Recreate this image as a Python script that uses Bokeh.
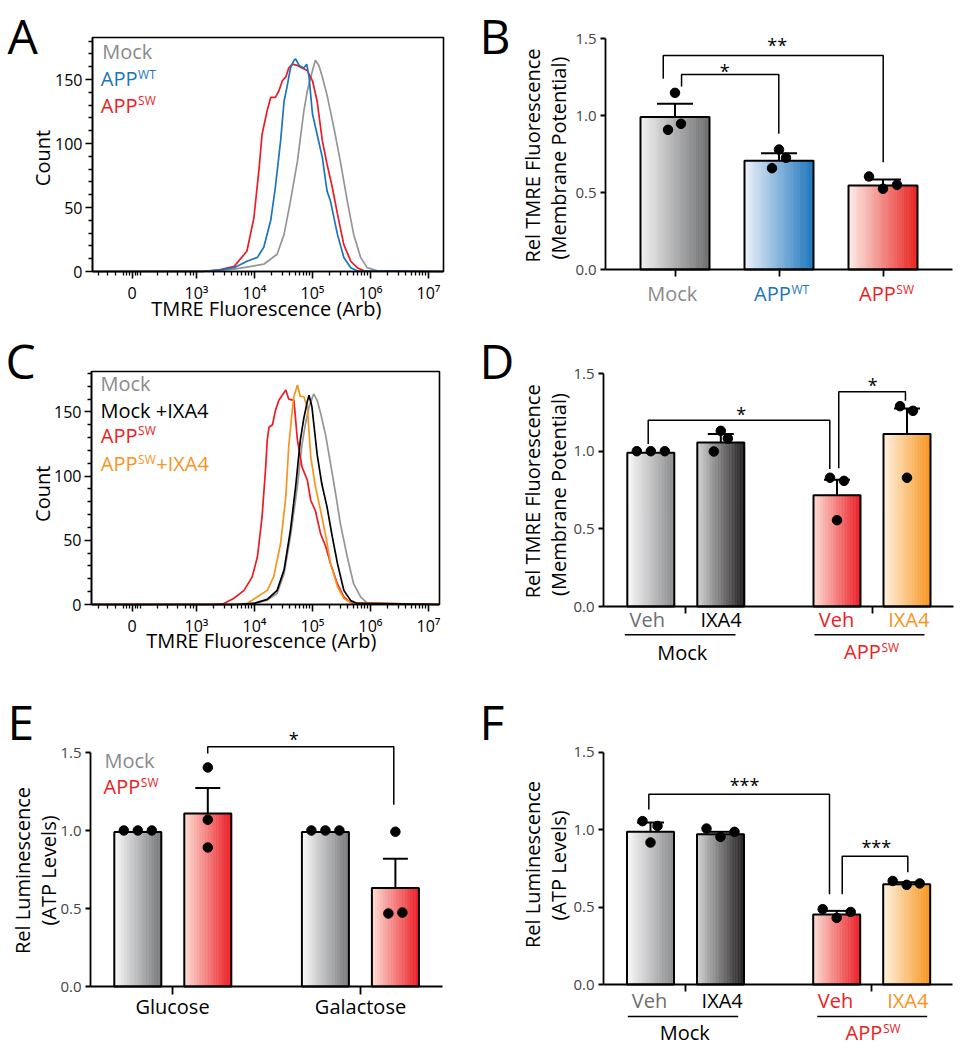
import math
from bokeh.plotting import figure
from bokeh.models import Label, FixedTicker, Range1d, Arrow, NumeralTickFormatter, BoxAnnotation
from bokeh.layouts import column, row
from bokeh.embed import file_html
from bokeh.resources import INLINE

FONT = "Open Sans"
GRAY_TXT = "#8a8a8c"
DGRAY_TXT = "#6d6e71"
BLUE = "#1c75bc"
RED = "#ed1c24"
ORANGE = "#f7941d"

# ---------------- Panel A: flow histograms (x = log10 TMRE fluorescence, y = count)
A_MOCK_X = [1.21, 3.30, 3.65, 4.16, 4.39, 4.51, 4.62, 4.74, 4.85, 4.91, 5.00, 5.05, 5.11, 5.17, 5.25, 5.37, 5.48, 5.60, 5.71, 5.83, 5.94, 6.12, 7.25]
A_MOCK_Y = [0, 0.5, 1.8, 5.7, 13.5, 29, 55, 86, 125, 141, 157, 165, 161, 152, 138, 112, 86, 55, 29, 11, 3, 0.5, 0]
A_WT_X = [1.21, 3.10, 3.36, 3.65, 3.87, 4.05, 4.16, 4.28, 4.36, 4.45, 4.51, 4.56, 4.62, 4.68, 4.71, 4.77, 4.85, 4.90, 4.94, 5.00, 5.08, 5.17, 5.25, 5.31, 5.43, 5.54, 5.66, 5.77, 7.25]
A_WT_Y = [0, 0, 1, 3, 8, 11, 19, 40, 66, 102, 133, 144, 159, 165, 166, 161, 159, 162, 152, 123, 107, 89, 63, 55, 29, 11, 3, 0.5, 0]
A_SW_X = [1.21, 3.10, 3.36, 3.65, 3.87, 3.99, 4.08, 4.13, 4.22, 4.28, 4.36, 4.42, 4.48, 4.54, 4.59, 4.65, 4.74, 4.82, 4.91, 5.00, 5.08, 5.17, 5.25, 5.34, 5.43, 5.54, 5.66, 5.77, 5.89, 7.25]
A_SW_Y = [0, 0, 1, 4, 16, 42, 81, 107, 126, 136, 136, 141, 149, 152, 159, 162, 161, 159, 157, 149, 133, 102, 84, 66, 45, 21, 8, 3, 0.5, 0]

# ---------------- Panel C: flow histograms
C_MOCK_X = [1.2, 3.70, 3.99, 4.22, 4.39, 4.51, 4.62, 4.74, 4.82, 4.88, 4.94, 5.02, 5.08, 5.14, 5.23, 5.31, 5.40, 5.48, 5.60, 5.71, 5.83, 5.94, 7.18]
C_MOCK_Y = [0, 0, 0.8, 3.4, 8.6, 24, 53, 92, 125, 141, 154, 164, 159, 149, 131, 110, 86, 63, 37, 16, 6, 1.3, 0]
C_MIX_X = [1.2, 3.70, 3.99, 4.22, 4.39, 4.51, 4.62, 4.71, 4.79, 4.85, 4.91, 4.94, 4.99, 5.08, 5.16, 5.25, 5.34, 5.43, 5.54, 5.66, 5.77, 7.18]
C_MIX_Y = [0, 0, 0.8, 4, 11, 27, 58, 92, 128, 145, 158, 163, 154, 117, 94, 76, 53, 32, 11, 3, 0.8, 0]
C_SW_X = [1.2, 3.30, 3.47, 3.64, 3.82, 3.96, 4.05, 4.13, 4.19, 4.22, 4.25, 4.31, 4.36, 4.42, 4.54, 4.59, 4.68, 4.74, 4.82, 4.91, 4.97, 5.05, 5.14, 5.23, 5.31, 5.43, 5.54, 5.66, 7.18]
C_SW_Y = [0, 0, 0.8, 4.7, 11, 21.5, 37, 68, 105, 128, 138, 140, 151, 159, 167, 160, 159, 128, 107, 97, 81, 73, 55, 45, 32, 16, 6, 1.3, 0]
C_SWIX_X = [1.2, 3.60, 3.87, 4.05, 4.22, 4.33, 4.45, 4.54, 4.59, 4.65, 4.68, 4.74, 4.79, 4.85, 4.91, 4.97, 5.05, 5.14, 5.23, 5.31, 5.43, 5.54, 5.66, 7.18]
C_SWIX_Y = [0, 0, 0.8, 6, 11, 21.5, 47.5, 84, 123, 151, 162, 171, 162, 162, 154, 115, 92, 73, 53, 32, 14, 4.7, 1.3, 0]

HIST_TICKS = [1.89, 3, 4, 5, 6, 7]
HIST_TICK_LABELS = ["0", "10\u00b3", "10\u2074", "10\u2075", "10\u2076", "10\u2077"]

# ---------------- Panel B
B_MEAN = [0.99, 0.706, 0.545]
B_SEM = [0.086, 0.049, 0.039]
B_PTS = [[1.147, 0.907, 0.946], [0.779, 0.658, 0.725], [0.604, 0.524, 0.550]]
B_BRACKETS = [(0.887, 3.002, 1.39, 1.238, 0.697, "**", 1.983, 1.482),
              (1.063, 1.998, 1.266, 1.188, 0.881, "*", 1.479, 1.314)]

# ---------------- Panel D
D_MEAN = [0.99, 1.056, 0.717, 1.11]
D_SEM = [0.0, 0.054, 0.099, 0.165]
D_PTS = [[1.0, 1.0, 1.0], [1.131, 1.082, 0.998], [0.829, 0.809, 0.556], [1.29, 1.26, 0.829]]
D_BRACKETS = [(0.963, 3.557, 1.2, 1.046, 0.885, "*", 2.291, 1.262),
              (3.685, 4.638, 1.383, 0.891, 1.325, "*", 4.171, 1.451)]

# ---------------- Panel E
E_MEAN = [0.99, 1.109, 0.99, 0.631]
E_SEM = [0.0, 0.163, 0.0, 0.188]
E_PTS = [[1.0, 1.0, 1.0], [1.404, 1.069, 0.891], [1.0, 1.0, 1.0], [0.992, 0.468, 0.474]]
E_BRACKETS = [(1.999, 4.657, 1.537, 1.494, 1.165, "*", 3.228, 1.609)]

# ---------------- Panel F
F_MEAN = [0.985, 0.970, 0.452, 0.647]
F_SEM = [0.06, 0.015, 0.023, 0.013]
F_PTS = [[1.054, 1.023, 0.916], [1.006, 0.952, 0.985], [0.486, 0.43, 0.468], [0.668, 0.643, 0.652]]
F_BRACKETS = [(0.976, 3.557, 1.228, 1.129, 0.583, "***", 2.343, 1.312),
              (3.739, 4.676, 0.828, 0.583, 0.725, "***", 4.225, 0.908)]

# ---------------- styling (positions / colours)
B_JIT = [[0, -7, 6], [0, -7, 7], [-14, 0, 14]]
D_JIT = [[-14, 0, 14], [0, 7, -7], [-7, 7, 0], [-7, 6, 0]]
E_JIT = [[-14, 0, 14], [0, 0, 0], [-14, 0, 14], [0, -7, 7]]
F_JIT = [[-8, 7, 0], [-14, 0, 14], [-14, 0, 14], [-14, 0, 13]]
B_COLS = [("#f3f3f3", "#6d6e70"), ("#eef3fa", "#1c75bc"), ("#fdefea", "#e8221e")]
D_COLS = [("#fbfbfb", "#8a8b8d"), ("#d4d5d6", "#231f20"), ("#fde0d6", "#ec1c24"), ("#fff3e2", "#f7941d")]
E_COLS = [("#fbfbfb", "#77787b"), ("#fde0d6", "#ec1c24"), ("#fbfbfb", "#77787b"), ("#fde0d6", "#ec1c24")]
LETTER_SIZE = 48


class Geo:
    """Maps page pixels to data units; (L,T,R,B) is the plot box, (x0..x1, y0..y1) its data extent."""
    def __init__(self, ox, oy, W, H, L, T, R, B, x0, x1, y0, y1):
        self.ox, self.oy, self.W, self.H = ox, oy, W, H
        self.L, self.T, self.R, self.B = L, T, R, B
        self.x0, self.x1, self.y0, self.y1 = x0, x1, y0, y1
        self.ux = (x1 - x0) / (R - L)
        self.uy = (y1 - y0) / (B - T)

    def X(self, px):
        return self.x0 + (px - self.L) * self.ux

    def Y(self, py):
        return self.y0 + (self.B - py) * self.uy


def make_fig(g):
    p = figure(width=g.W, height=g.H,
               x_range=Range1d(g.X(g.ox), g.X(g.ox + g.W)),
               y_range=Range1d(g.Y(g.oy + g.H), g.Y(g.oy)),
               output_backend="svg", toolbar_location=None,
               min_border=0, min_border_left=0, min_border_right=0,
               min_border_top=0, min_border_bottom=0)
    p.grid.visible = False
    p.background_fill_color = "white"
    p.border_fill_color = "white"
    p.outline_line_color = None
    return p


def txt(p, g, px, py, text, size, color="black", align="left", angle=0.0):
    # py is the vertical centre of the capitals
    p.add_layout(Label(x=g.X(px), y=g.Y(py), text=text, text_font=FONT,
                       text_font_size=f"{int(size)}px", text_color=color,
                       text_align=align, text_baseline="middle", angle=angle))


def letter(p, g, px, text):
    # panel letter, kept fully inside its own figure
    txt(p, g, px, g.oy + 34.5, text, LETTER_SIZE)


def sup(p, g, split, cy, base, s, color, size=20, ssize=12, rise=4.1):
    txt(p, g, split, cy, base, size, color, align="right")
    txt(p, g, split + 0.6, cy - rise, s, ssize, color, align="left")


def hline(p, g, px0, px1, py):
    p.add_layout(Arrow(x_start=g.X(px0), y_start=g.Y(py), x_end=g.X(px1), y_end=g.Y(py),
                       end=None, line_color="black", line_width=1.6))


def mix(c0, c1, t):
    a = [int(c0[i:i + 2], 16) for i in (1, 3, 5)]
    b = [int(c1[i:i + 2], 16) for i in (1, 3, 5)]
    return "#%02x%02x%02x" % tuple(int(round(a[k] + (b[k] - a[k]) * t)) for k in range(3))


def hist_axes(p, g):
    xa, ya = p.xaxis[0], p.yaxis[0]
    minor = [1.31, 1.47, 1.60, 1.74, 1.79, 1.84, 1.94, 1.99, 2.04, 2.33, 2.5, 2.67, 2.81, 2.9, 2.95]
    for d in range(3, 7):
        minor += [d + math.log10(m) for m in range(2, 10)]
    xa.ticker = FixedTicker(ticks=HIST_TICKS, minor_ticks=minor)
    xa.major_label_overrides = {t: l for t, l in zip(HIST_TICKS, HIST_TICK_LABELS)}
    ya.ticker = FixedTicker(ticks=[0, 50, 100, 150],
                            minor_ticks=[v for v in range(10, 190, 10) if v % 50])
    xa.fixed_location = g.y0
    xa.bounds = (g.x0, g.x1)
    ya.fixed_location = g.x0
    ya.bounds = (g.y0, g.y1)
    for ax in (xa, ya):
        ax.axis_line_width = 1.6
        ax.axis_line_color = "black"
        ax.major_tick_in = 0
        ax.minor_tick_in = 0
        ax.major_tick_out = 7
        ax.minor_tick_out = 4
        ax.major_tick_line_width = 1.6
        ax.minor_tick_line_width = 1.3
        ax.major_label_text_font = FONT
        ax.major_label_text_font_size = "16px"
        ax.major_label_text_color = "black"
        ax.major_label_standoff = 3
    p.add_layout(BoxAnnotation(left=g.x0, right=g.x1, bottom=g.y0, top=g.y1,
                               fill_color=None, fill_alpha=0, line_color="black",
                               line_width=1.6, line_alpha=1))


def bar_axes(p, g, xticks, xtick_len):
    xa, ya = p.xaxis[0], p.yaxis[0]
    ya.ticker = FixedTicker(ticks=[0, 0.5, 1.0, 1.5])
    ya.formatter = NumeralTickFormatter(format="0.0")
    ya.fixed_location = g.x0
    ya.bounds = (0, 1.5)
    xa.ticker = FixedTicker(ticks=xticks)
    xa.major_label_text_color = None
    xa.fixed_location = 0
    xa.bounds = (g.x0, g.x1)
    for ax in (xa, ya):
        ax.axis_line_width = 1.8
        ax.axis_line_color = "black"
        ax.major_tick_in = 0
        ax.major_tick_line_width = 1.8
        ax.minor_tick_line_color = None
        ax.major_label_text_font = FONT
        ax.major_label_text_font_size = "15px"
        ax.major_label_standoff = 4
    ya.major_tick_out = 5
    xa.major_tick_out = xtick_len


def draw_bars(p, g, pos, means, sems, pts, jit, cols, width_px, cap_px):
    wd = width_px * g.ux
    cap = cap_px * g.ux
    n = 30
    for i, x in enumerate(pos):
        c0, c1 = cols[i]
        lefts = [x - wd / 2 + k * wd / n for k in range(n)]
        rights = [x - wd / 2 + (k + 1) * wd / n for k in range(n)]
        colors = [mix(c0, c1, (k + 0.5) / n) for k in range(n)]
        p.quad(left=lefts, right=rights, bottom=0, top=means[i],
               fill_color=colors, line_color=colors, line_width=0.6)
        p.quad(left=[x - wd / 2], right=[x + wd / 2], bottom=[0], top=[means[i]],
               fill_color=None, line_color="black", line_width=2)
        if sems[i] > 0:
            top = means[i] + sems[i]
            p.segment(x0=[x, x - cap / 2], y0=[means[i], top], x1=[x, x + cap / 2], y1=[top, top],
                      line_color="black", line_width=2)
        p.scatter(x=[x + j * g.ux for j in jit[i]], y=pts[i], size=9.5,
                  marker="circle", fill_color="black", line_color="black")


def draw_brackets(p, g, brackets):
    for xl, xr, yt, yl, yr, star, sx, sy in brackets:
        p.line(x=[xl, xl, xr, xr], y=[yl, yt, yt, yr], line_color="black", line_width=1.5)
        p.add_layout(Label(x=sx, y=sy - 3.5 * g.uy, text=star, text_font=FONT,
                           text_font_size="18px", text_align="center",
                           text_baseline="middle", text_color="black"))


HALF_PI = math.pi / 2

# ======================= Panel A
gA = Geo(0, 0, 470, 325, 92, 37, 443, 271,
         3 + (92 - 196) / 58, 3 + (443 - 196) / 58, 0, 234 / 1.28)
pA = make_fig(gA)
hist_axes(pA, gA)
pA.line(A_MOCK_X, A_MOCK_Y, line_color="#939598", line_width=1.7)
pA.line(A_SW_X, A_SW_Y, line_color=RED, line_width=1.7)
pA.line(A_WT_X, A_WT_Y, line_color=BLUE, line_width=1.7)
letter(pA, gA, 7, "A")
txt(pA, gA, 41.7, 157.5, "Count", 20, align="center", angle=HALF_PI)
txt(pA, gA, 265.8, 308.3, "TMRE Fluorescence (Arb)", 20, align="center")
txt(pA, gA, 101.7, 51.2, "Mock", 20, GRAY_TXT)
sup(pA, gA, 137, 77.8, "APP", "WT", BLUE)
sup(pA, gA, 137, 104.5, "APP", "SW", RED)

# ======================= Panel B
gB = Geo(470, 0, 494, 325, 605, 30, 952, 269,
         1 - (674.5 - 605) / 104, 1 - (674.5 - 605) / 104 + 347 / 104, 0, 239 / 154)
pB = make_fig(gB)
bar_axes(pB, gB, [1, 2, 3], 7)
draw_bars(pB, gB, [1, 2, 3], B_MEAN, B_SEM, B_PTS, B_JIT, B_COLS, 69, 36)
draw_brackets(pB, gB, B_BRACKETS)
letter(pB, gB, 479, "B")
txt(pB, gB, 531.7, 155, "Rel TMRE Fluorescence", 20, align="center", angle=HALF_PI)
txt(pB, gB, 558.3, 157.5, "(Membrane Potential)", 20, align="center", angle=HALF_PI)
txt(pB, gB, 671.7, 293.3, "Mock", 20, GRAY_TXT, align="center")
sup(pB, gB, 790.3, 293.3, "APP", "WT", BLUE)
sup(pB, gB, 895.2, 293.3, "APP", "SW", RED)

# ======================= Panel C
gC = Geo(0, 325, 470, 361, 91, 371, 439, 604,
         3 + (91 - 196) / 58, 3 + (439 - 196) / 58, 0, 233 / 1.284)
pC = make_fig(gC)
hist_axes(pC, gC)
pC.line(C_MOCK_X, C_MOCK_Y, line_color="#939598", line_width=1.7)
pC.line(C_SW_X, C_SW_Y, line_color=RED, line_width=1.7)
pC.line(C_SWIX_X, C_SWIX_Y, line_color=ORANGE, line_width=1.7)
pC.line(C_MIX_X, C_MIX_Y, line_color="black", line_width=1.7)
letter(pC, gC, 5, "C")
txt(pC, gC, 41.7, 493.3, "Count", 20, align="center", angle=HALF_PI)
txt(pC, gC, 260.8, 640, "TMRE Fluorescence (Arb)", 20, align="center")
txt(pC, gC, 100, 382.5, "Mock", 20, GRAY_TXT)
txt(pC, gC, 100, 409.5, "Mock +IXA4", 20, "black")
sup(pC, gC, 137, 434.5, "APP", "SW", RED)
sup(pC, gC, 137, 462.8, "APP", "SW", ORANGE)
txt(pC, gC, 155.7, 462.8, "+IXA4", 20, ORANGE)

# ======================= Panel D
POS4 = [1, 2, 3.66, 4.66]
gD = Geo(470, 325, 494, 361, 603, 360, 953, 606,
         1 - (650.3 - 603) / 70, 1 - (650.3 - 603) / 70 + 350 / 70, 0, 246 / 155.3)
pD = make_fig(gD)
bar_axes(pD, gD, [1.5, 4.16], 7)
draw_bars(pD, gD, POS4, D_MEAN, D_SEM, D_PTS, D_JIT, D_COLS, 47, 26)
draw_brackets(pD, gD, D_BRACKETS)
letter(pD, gD, 479, "D")
txt(pD, gD, 531.7, 490.8, "Rel TMRE Fluorescence", 20, align="center", angle=HALF_PI)
txt(pD, gD, 558.3, 494, "(Membrane Potential)", 20, align="center", angle=HALF_PI)
txt(pD, gD, 646.7, 618.9, "Veh", 20, DGRAY_TXT, align="center")
txt(pD, gD, 720.5, 618.9, "IXA4", 20, "black", align="center")
txt(pD, gD, 836, 618.9, "Veh", 20, RED, align="center")
txt(pD, gD, 908.3, 618.9, "IXA4", 20, ORANGE, align="center")
hline(pD, gD, 624.3, 735, 634.3)
hline(pD, gD, 814, 924, 634.3)
txt(pD, gD, 681.7, 652.1, "Mock", 20, "black", align="center")
sup(pD, gD, 880.3, 651.1, "APP", "SW", RED)

# ======================= Panel E
POS4E = [1, 2, 3.68, 4.68]
gE = Geo(0, 686, 470, 364, 90, 716, 442, 986,
         1 - (137.3 - 90) / 70, 1 - (137.3 - 90) / 70 + 352 / 70, 0, 270 / 156)
pE = make_fig(gE)
bar_axes(pE, gE, [1.5, 4.18], 8)
draw_bars(pE, gE, POS4E, E_MEAN, E_SEM, E_PTS, E_JIT, E_COLS, 47, 25)
draw_brackets(pE, gE, E_BRACKETS)
letter(pE, gE, 7, "E")
txt(pE, gE, 21.7, 870, "Rel Luminescence", 20, align="center", angle=HALF_PI)
txt(pE, gE, 48.3, 870, "(ATP Levels)", 20, align="center", angle=HALF_PI)
txt(pE, gE, 172, 1005.5, "Glucose", 20, "black", align="center")
txt(pE, gE, 360, 1005.5, "Galactose", 20, "black", align="center")
txt(pE, gE, 104, 760.1, "Mock", 20, GRAY_TXT)
sup(pE, gE, 139.7, 786.1, "APP", "SW", RED)

# ======================= Panel F
gF = Geo(470, 686, 494, 364, 603, 716, 952, 984,
         1 - (650 - 603) / 70, 1 - (650 - 603) / 70 + 349 / 70, 0, 268 / 155)
pF = make_fig(gF)
bar_axes(pF, gF, [1.5, 4.16], 7)
draw_bars(pF, gF, POS4, F_MEAN, F_SEM, F_PTS, F_JIT, D_COLS, 47, 27)
draw_brackets(pF, gF, F_BRACKETS)
letter(pF, gF, 479, "F")
txt(pF, gF, 531.7, 864, "Rel Luminescence", 20, align="center", angle=HALF_PI)
txt(pF, gF, 558.3, 865, "(ATP Levels)", 20, align="center", angle=HALF_PI)
txt(pF, gF, 649, 999.5, "Veh", 20, DGRAY_TXT, align="center")
txt(pF, gF, 721.7, 999.5, "IXA4", 20, "black", align="center")
txt(pF, gF, 835, 999.5, "Veh", 20, RED, align="center")
txt(pF, gF, 907.3, 999.5, "IXA4", 20, ORANGE, align="center")
hline(pF, gF, 627.3, 737.7, 1016)
hline(pF, gF, 816.7, 926.7, 1016)
txt(pF, gF, 684.3, 1032.1, "Mock", 20, "black", align="center")
sup(pF, gF, 881.8, 1032.1, "APP", "SW", RED)

p = column(row(pA, pB), row(pC, pD), row(pE, pF))
open("out.html", "w").write(file_html(p, INLINE))
